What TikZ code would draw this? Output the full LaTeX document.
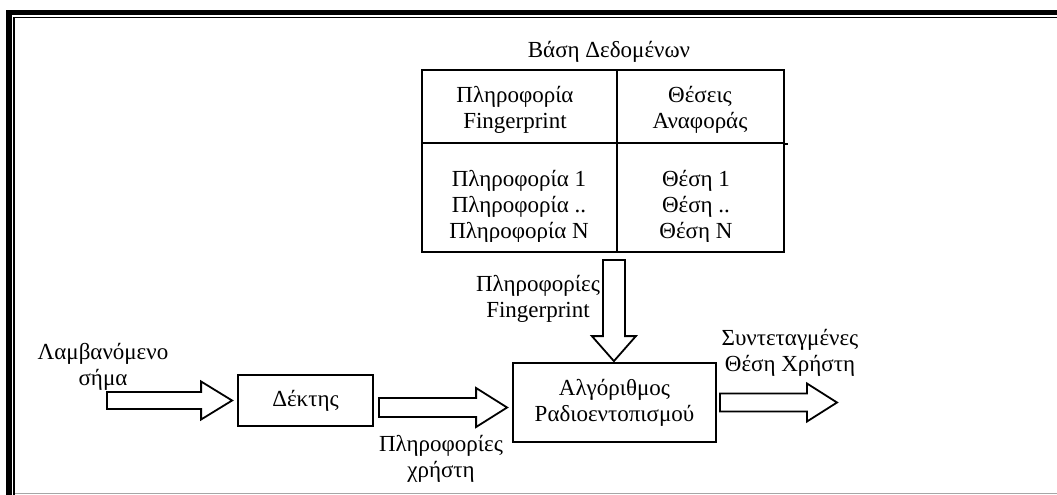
\documentclass[tikz,border=0pt]{standalone}
\usepackage{fontspec}
\setmainfont{Liberation Serif}
\usetikzlibrary{calc}

% Block arrow pointing right: #1 tail, #2 tip, #3 shaft half-width,
% #4 head half-width, #5 head length (all in pt)
\newcommand\blockright[5]{%
  \draw[blockline] let \p1=(#1), \p2=(#2) in
    (\x1,\y1+#3pt) -- (\x2-#5pt,\y1+#3pt) -- (\x2-#5pt,\y1+#4pt) -- (\x2,\y1)
    -- (\x2-#5pt,\y1-#4pt) -- (\x2-#5pt,\y1-#3pt) -- (\x1,\y1-#3pt) -- cycle;}
% Block arrow pointing down, same arguments
\newcommand\blockdown[5]{%
  \draw[blockline] let \p1=(#1), \p2=(#2) in
    (\x1-#3pt,\y1) -- (\x1-#3pt,\y2+#5pt) -- (\x1-#4pt,\y2+#5pt) -- (\x1,\y2)
    -- (\x1+#4pt,\y2+#5pt) -- (\x1+#3pt,\y2+#5pt) -- (\x1+#3pt,\y1) -- cycle;}

\begin{document}
\begin{tikzpicture}[x=1pt,y=-1pt,
  txt/.style={font=\fontsize{23}{26}\selectfont, inner sep=0pt, align=center},
  cell/.style={draw, line width=1.8pt, inner sep=0pt},
  procbox/.style={draw, line width=1.8pt, inner sep=0pt, align=center,
                  font=\fontsize{23}{26}\selectfont},
  blockline/.style={draw, line width=1.8pt, line join=miter, fill=white}]

\useasboundingbox (0,0) rectangle (1057,495);
\fill[white] (0,0) rectangle (1057,495);

% page frame
\draw[line width=5.5pt] (9,495) -- (9,12.5) -- (1057,12.5);
\draw[line width=1.3pt] (14,495) -- (14,17.2) -- (1057,17.2);
\draw[black!35, line width=1.2pt] (15,493.4) -- (1057,493.4);

% database table
\node[txt] (title) at (609,51.5) {Βάση Δεδομένων};
\node[cell, minimum width=195pt, minimum height=73pt] (hL) at (519.5,106.5) {};
\node[cell, minimum width=167pt, minimum height=73pt] (hR) at (700.5,106.5) {};
\node[cell, minimum width=195pt, minimum height=109pt] (bL) at (519.5,197.5) {};
\node[cell, minimum width=167pt, minimum height=109pt] (bR) at (700.5,197.5) {};
\draw[line width=1.8pt] (hR.south east) -- ++(3,0);

\node[txt] (hLt) at (515,109.5) {Πληροφορία\\Fingerprint};
\node[txt] (hRt) at (700,109.5) {Θέσεις\\Αναφοράς};
\begin{scope}
  \clip (422,143) rectangle (784,241.5);
  \node[txt] (bLt) at (519,207) {Πληροφορία 1\\Πληροφορία ..\\Πληροφορία N};
  \node[txt] (bRt) at (696,207) {Θέση 1\\Θέση ..\\Θέση N};
\end{scope}

% processing blocks
\node[procbox, minimum width=135pt, minimum height=51pt] (dek) at (305.5,400.5) {Δέκτης};
\node[procbox, minimum width=203pt, minimum height=79pt] (alg) at (614.5,402.5)
  {Αλγόριθμος\\Ραδιοεντοπισμού};

% labels
\node[txt] (lIn)  at (103,367) {Λαμβανόμενο\\σήμα};
\node[txt] (lUsr) at (441,459) {Πληροφορίες\\χρήστη};
\node[txt] (lFp)  at (538,299) {Πληροφορίες\\Fingerprint};
\node[txt] (lOut) at (790,353) {Συντεταγμένες\\Θέση Χρήστη};

% arrow end points
\coordinate (inTail) at (107,400.5);
\coordinate (inTip)  at ($(dek.west)+(-5,0)$);
\coordinate (usTail) at ($(dek.east)+(5,7)$);
\coordinate (usTip)  at ($(alg.west)+(-5,5)$);
\coordinate (fpTail) at ($(bL.south east)+(-4,7)$);
\coordinate (fpTip)  at ($(alg.north)+(-1.5,-1)$);
\coordinate (outTail) at ($(alg.east)+(3,0)$);
\coordinate (outTip)  at (837,402.5);

% block arrows
\blockright{inTail}{inTip}{8.5}{19}{31}
\blockright{usTail}{usTip}{9.5}{19.5}{31}
\blockdown{fpTail}{fpTip}{11}{22}{25}
\blockright{outTail}{outTip}{9}{19}{30}
\end{tikzpicture}
\end{document}
